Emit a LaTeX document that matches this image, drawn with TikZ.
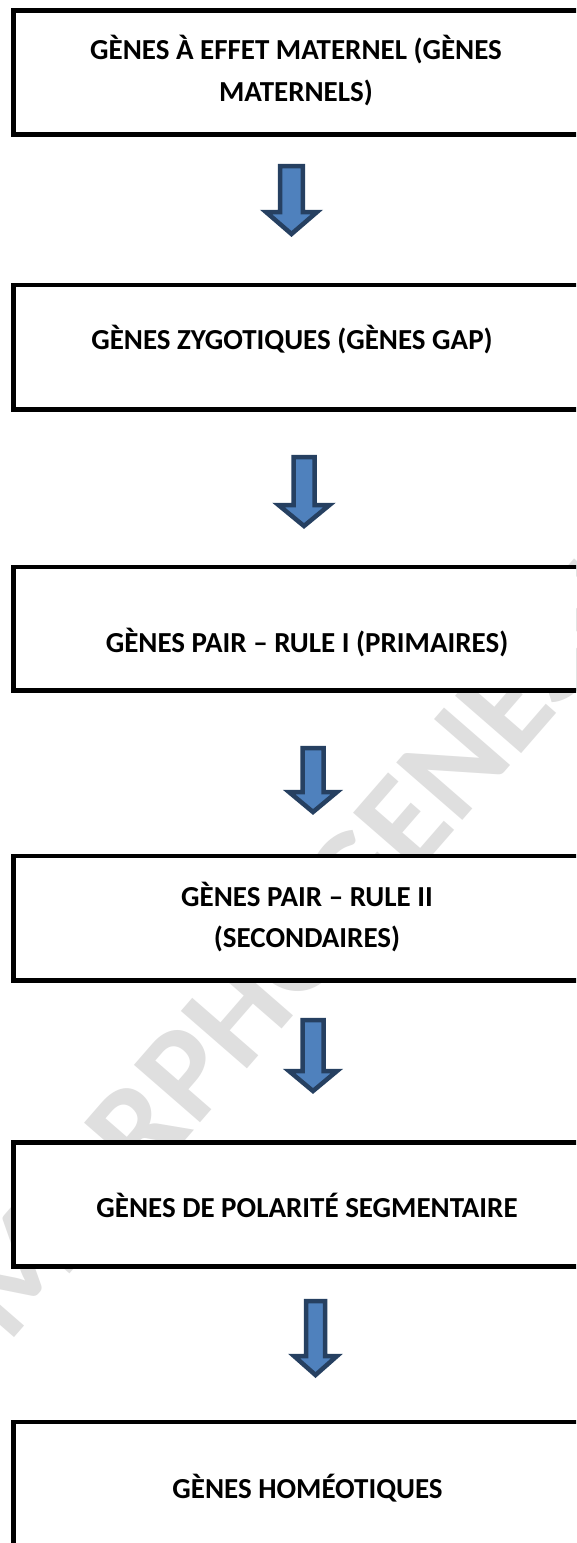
\documentclass[tikz,border=0pt]{standalone}
\usepackage{fontspec}
\setmainfont{Carlito}
\definecolor{arrowfill}{RGB}{79,129,189}
\definecolor{arrowdraw}{RGB}{38,64,97}
\definecolor{wmgray}{RGB}{223,223,223}
\newcommand{\blockarr}[6]{%
  \draw[blockarrow] (#1-#5,#2) -- (#1+#5,#2) -- (#1+#5,#3) -- (#1+#6,#3)
    -- (#1,#4) -- (#1-#6,#3) -- (#1-#5,#3) -- cycle;}
\begin{document}
\begin{tikzpicture}[x=1pt,y=-1pt,
  box/.style={draw=black, line width=4.5pt, fill=white, inner sep=0pt, minimum width=576.5pt},
  lbl/.style={font=\fontsize{29}{41}\selectfont\bfseries, anchor=base, inner sep=0pt},
  blockarrow/.style={fill=arrowfill, draw=arrowdraw, line width=4.5pt, line join=miter},
  wm/.style={font=\fontsize{135}{135}\selectfont\bfseries, text=wmgray, rotate=49, inner sep=0pt}]
\useasboundingbox (0,0) rectangle (576,1543);
\clip (0,0) rectangle (576,1543);
\fill[white] (0,0) rectangle (576,1543);
% watermark
\node[wm] (wm) at (293,950) {MORPHOGENESE};
% boxes
\node[box, minimum height=124pt]   (b1) at (301.75,72.5) {};
\node[box, minimum height=124.5pt] (b2) at (301.75,347.25) {};
\node[box, minimum height=123.5pt] (b3) at (301.75,628.75) {};
\node[box, minimum height=124.5pt] (b4) at (301.75,918.25) {};
\node[box, minimum height=124pt]   (b5) at (301.75,1204.5) {};
\node[box, minimum height=138pt]   (b6) at (301.75,1491) {};
% labels
\node[lbl] (t1a) at (296,59.5) {GÈNES À EFFET MATERNEL (GÈNES};
\node[lbl] (t1b) at (296,101) {MATERNELS)};
\node[lbl] (t2) at (292,349) {GÈNES ZYGOTIQUES (GÈNES GAP)};
\node[lbl] (t3) at (307,652) {GÈNES PAIR – RULE I (PRIMAIRES)};
\node[lbl] (t4a) at (307,906) {GÈNES PAIR – RULE II};
\node[lbl] (t4b) at (307,947) {(SECONDAIRES)};
\node[lbl] (t5) at (307,1217) {GÈNES DE POLARITÉ SEGMENTAIRE};
\node[lbl] (t6) at (307.5,1498) {GÈNES HOMÉOTIQUES};
% block arrows: cx, top, shoulder, tip, half shaft, half head
\blockarr{291.5}{166}{212}{234}{11.3}{25.5}
\blockarr{304}{457}{505}{526}{10.5}{25.5}
\blockarr{313}{748}{792}{812}{10.5}{24}
\blockarr{313}{1020}{1071}{1091}{10.5}{24}
\blockarr{315.5}{1301}{1356}{1375}{9.5}{21.5}
\end{tikzpicture}
\end{document}
